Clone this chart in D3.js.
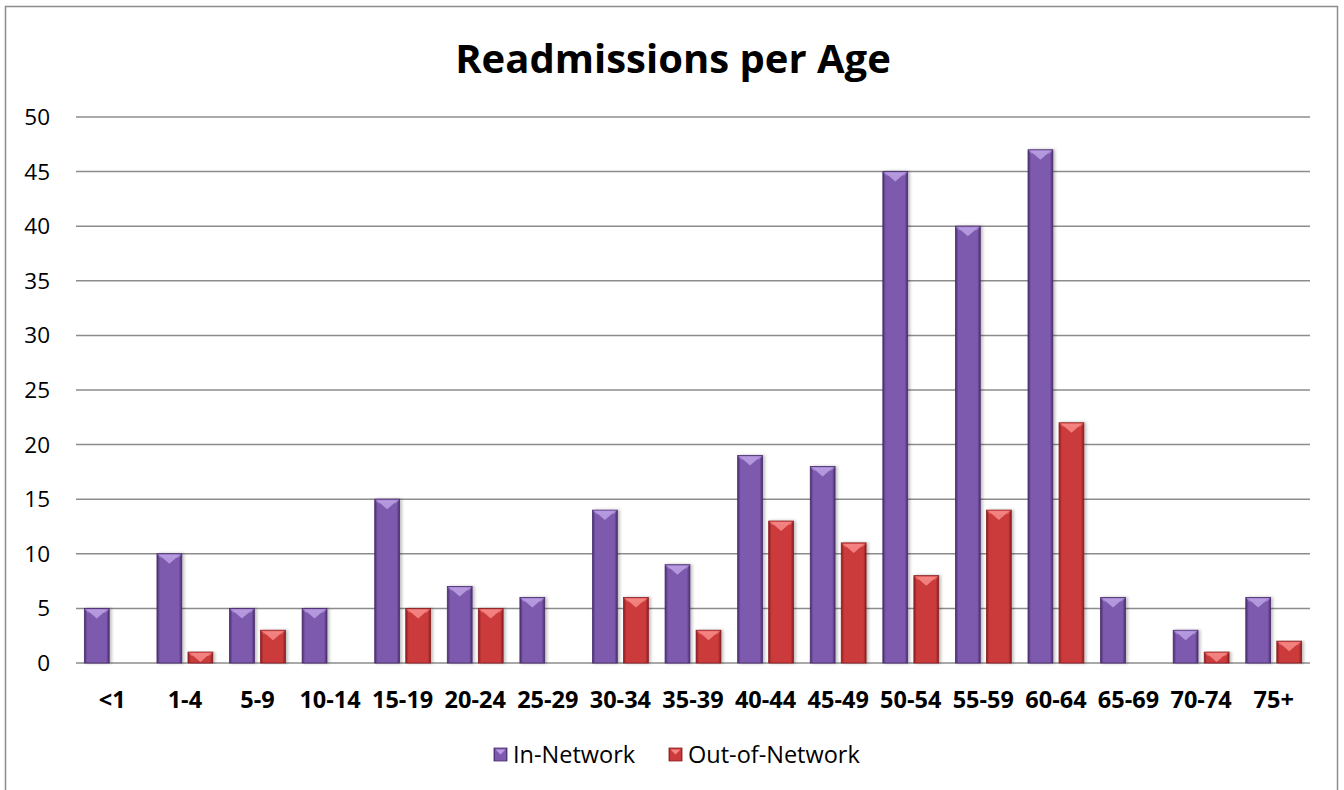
<!DOCTYPE html>
<html>
<head>
<meta charset="utf-8">
<script src="https://cdn.jsdelivr.net/npm/d3@7"></script>
<style>
  html, body { margin: 0; padding: 0; background: #fff; }
  svg { display: block; font-family: "Open Sans", "Noto Sans", sans-serif; }
</style>
</head>
<body>
<svg id="chart" width="1344" height="790"></svg>
<script>
// Age bands and readmission counts
const ageGroups = ["<1", "1-4", "5-9", "10-14", "15-19", "20-24", "25-29", "30-34", "35-39",
  "40-44", "45-49", "50-54", "55-59", "60-64", "65-69", "70-74", "75+"];
const inNetwork = [5, 10, 5, 5, 15, 7, 6, 14, 9, 19, 18, 45, 40, 47, 6, 3, 6];
const outOfNetwork = [0, 1, 3, 0, 5, 5, 0, 6, 3, 13, 11, 8, 14, 22, 0, 1, 2];
const yTicks = [0, 5, 10, 15, 20, 25, 30, 35, 40, 45, 50];
const seriesNames = ["In-Network", "Out-of-Network"];

const svg = d3.select("#chart");
const W = 1344, H = 790;
const plot = { left: 76, right: 1310, top: 117, bottom: 663 };

// Outer chart frame
svg.append("rect")
  .attr("x", 5.5).attr("y", 6.5)
  .attr("width", 1332).attr("height", 800)
  .attr("fill", "#fff").attr("stroke", "#8c8c8c").attr("stroke-width", 1.5);

// Bevel-style gradients for each series
const defs = svg.append("defs");
const palettes = [
  { id: "purple", edge: "#4a2c6e", mid: "#7d5aad", light: "#9b7cc9", tip: "#b89de2" },
  { id: "red", edge: "#8a1e21", mid: "#cc3b3b", light: "#e05c5b", tip: "#f58785" }
];
palettes.forEach(p => {
  const g = defs.append("linearGradient").attr("id", "grad-" + p.id)
    .attr("x1", "0%").attr("x2", "100%").attr("y1", "0%").attr("y2", "0%");
  g.append("stop").attr("offset", "0%").attr("stop-color", p.edge);
  g.append("stop").attr("offset", "12%").attr("stop-color", p.mid);
  g.append("stop").attr("offset", "88%").attr("stop-color", p.mid);
  g.append("stop").attr("offset", "100%").attr("stop-color", p.edge);
});

// Soft drop shadow to the right of each bar
const shadow = defs.append("filter").attr("id", "shadow")
  .attr("x", "-20%").attr("y", "-5%").attr("width", "160%").attr("height", "110%");
shadow.append("feDropShadow").attr("dx", 2).attr("dy", 0).attr("stdDeviation", 1.5)
  .attr("flood-color", "#000").attr("flood-opacity", 0.25);

const x0 = d3.scaleBand().domain(ageGroups).range([plot.left, plot.right]).paddingInner(0).paddingOuter(0);
const x1 = d3.scaleBand().domain(seriesNames).range([0, x0.bandwidth()]).paddingInner(0.2).paddingOuter(0.27);
const y = d3.scaleLinear().domain([0, 50]).range([plot.bottom, plot.top]);

// Title
svg.append("text")
  .attr("x", W / 2 + 1).attr("y", 73)
  .attr("text-anchor", "middle")
  .attr("font-size", 40).attr("font-weight", "bold").attr("fill", "#000")
  .text("Readmissions per Age");

// Horizontal gridlines
svg.append("g").selectAll("line").data(yTicks).join("line")
  .attr("x1", plot.left).attr("x2", plot.right)
  .attr("y1", d => y(d)).attr("y2", d => y(d))
  .attr("stroke", "#8c8c8c").attr("stroke-width", 1.5);

// Y axis labels
svg.append("g").selectAll("text").data(yTicks).join("text")
  .attr("x", 50).attr("y", d => y(d) + 8)
  .attr("text-anchor", "end")
  .attr("font-size", 22.5).attr("fill", "#000")
  .text(d => d);

// X axis labels
svg.append("g").selectAll("text").data(ageGroups).join("text")
  .attr("x", d => x0(d) + x0.bandwidth() / 2).attr("y", 708)
  .attr("text-anchor", "middle")
  .attr("font-size", 23.5).attr("font-weight", "bold").attr("fill", "#000")
  .text(d => d);

// Bars
const rows = ageGroups.map((g, i) => ({ group: g, values: [inNetwork[i], outOfNetwork[i]] }));
const groups = svg.append("g").selectAll("g").data(rows).join("g")
  .attr("transform", d => `translate(${x0(d.group)},0)`);

groups.each(function (d) {
  const gEl = d3.select(this);
  d.values.forEach((v, si) => {
    if (v <= 0) return;
    const p = palettes[si];
    const bx = x1(seriesNames[si]);
    const bw = x1.bandwidth();
    const top = y(v), h = y(0) - y(v);
    gEl.append("rect")
      .attr("x", bx).attr("y", top).attr("width", bw).attr("height", h)
      .attr("fill", `url(#grad-${p.id})`)
      .attr("stroke", p.edge).attr("stroke-width", 0.8)
      .attr("filter", "url(#shadow)");
    // bevelled top facet
    const bev = Math.min(4, h / 2);
    gEl.append("path")
      .attr("d", `M${bx + 0.5},${top + 0.5} L${bx + bw - 0.5},${top + 0.5} L${bx + bw - 3},${top + bev} L${bx + 3},${top + bev} Z`)
      .attr("fill", p.light);
    gEl.append("path")
      .attr("d", `M${bx + 2},${top + 1} L${bx + bw - 2},${top + 1} L${bx + bw / 2},${top + Math.min(10, h)} Z`)
      .attr("fill", p.tip).attr("opacity", 0.9);
  });
});

// Legend
const legendItems = [
  { name: seriesNames[0], x: 494, p: palettes[0] },
  { name: seriesNames[1], x: 669, p: palettes[1] }
];
const lg = svg.append("g").selectAll("g").data(legendItems).join("g")
  .attr("transform", d => `translate(${d.x},748)`);
lg.append("rect").attr("width", 13).attr("height", 13)
  .attr("fill", d => `url(#grad-${d.p.id})`).attr("stroke", d => d.p.edge).attr("stroke-width", 0.8);
lg.append("path").attr("d", "M1.5,1.5 L11.5,1.5 L6.5,6.5 Z").attr("fill", d => d.p.tip);
lg.append("text").attr("x", 19).attr("y", 14.5)
  .attr("font-size", 23.5).attr("fill", "#000")
  .text(d => d.name);
</script>
</body>
</html>
